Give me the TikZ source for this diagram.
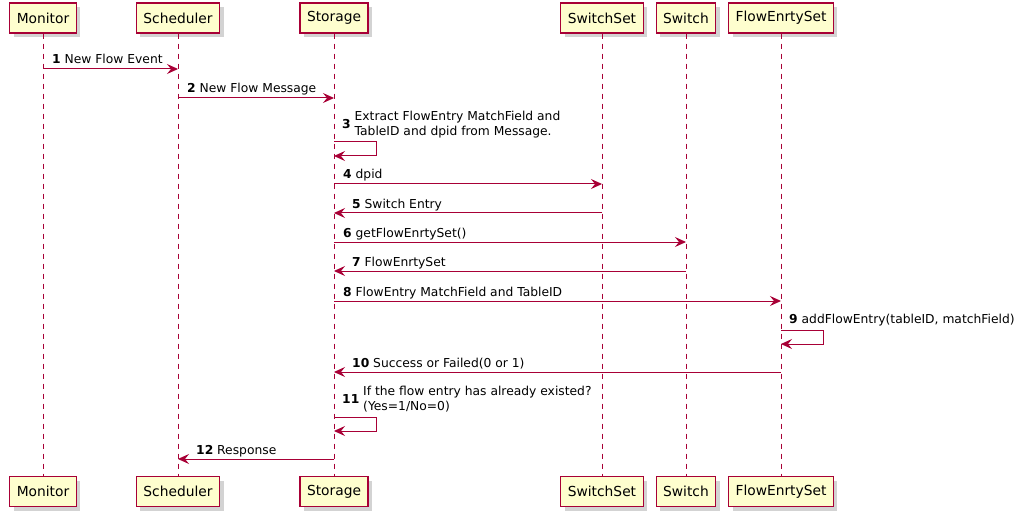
\documentclass[tikz,border=0pt]{standalone}
\usepackage{fontspec}
\setmainfont{DejaVu Sans}
\usetikzlibrary{arrows.meta,shadows}
\definecolor{umlred}{HTML}{A80036}
\definecolor{umlfill}{HTML}{FEFECE}

\begin{document}
\begin{tikzpicture}[x=1pt, y=-1pt,
    actor/.style={draw=umlred, line width=1.2pt, fill=umlfill, minimum height=30pt, inner xsep=7pt,
        font=\fontsize{13.8}{16}\selectfont,
        drop shadow={shadow xshift=4pt, shadow yshift=-4pt, opacity=0.35}},
    lifeline/.style={umlred, line width=0.9pt, dash pattern=on 5pt off 5pt},
    msg/.style={umlred, line width=1pt, -{Stealth[length=11pt, width=10pt, inset=4pt]}},
    lbl/.style={inner sep=0pt, anchor=base west, font=\fontsize{12.3}{14.5}\selectfont},
    selflbl/.style={inner sep=0pt, anchor=south west, font=\fontsize{12.3}{14.5}\selectfont}]
    \useasboundingbox (0,0) rectangle (1029,516);

    \foreach \p/\x in {Monitor/43, Scheduler/178, Storage/334, SwitchSet/602, Switch/686, FlowEnrtySet/781} {
        \node[actor] (\p-top) at (\x,18) {\p};
        \node[actor] (\p-bot) at (\x,491.5) {\p};
        \draw[lifeline] (\p-top) -- (\p-bot);
    }

    \foreach \a/\b/\y/\n/\t in {Monitor/Scheduler/69/1/New Flow Event,
            Scheduler/Storage/98/2/New Flow Message,
            Storage/SwitchSet/184/4/dpid,
            Storage/Switch/242/6/getFlowEnrtySet(),
            Storage/FlowEnrtySet/301/8/FlowEntry MatchField and TableID} {
        \draw[msg] (\a-top |- 0,\y) -- (\b-top |- 0,\y);
        \node[lbl, xshift=9pt, yshift=5pt] (l\n) at (\a-top |- 0,\y) {\textbf{\n} \t};
    }

    \foreach \a/\b/\y/\n/\t in {SwitchSet/Storage/213/5/Switch Entry,
            Switch/Storage/271/7/FlowEnrtySet,
            FlowEnrtySet/Storage/372/10/{Success or Failed(0 or 1)},
            Storage/Scheduler/459/12/Response} {
        \draw[msg] (\a-top |- 0,\y) -- (\b-top |- 0,\y);
        \node[lbl, xshift=18pt, yshift=5pt] (l\n) at (\b-top |- 0,\y) {\textbf{\n} \t};
    }

    \foreach \p/\y/\n/\t in {Storage/142/3/{Extract FlowEntry MatchField and\\TableID and dpid from Message.},
            FlowEnrtySet/330/9/{addFlowEntry(tableID, matchField)},
            Storage/417/11/{If the flow entry has already existed?\\(Yes=1/No=0)}} {
        \draw[msg] (\p-top |- 0,\y) -- ++(42,0) -- ++(0,14) -- (\p-top |- 0,\y+14);
        \node[selflbl, xshift=8pt, yshift=2pt] (l\n) at (\p-top |- 0,\y)
            {\textbf{\n} \begin{tabular}[c]{@{}l@{}}\t\end{tabular}};
    }
\end{tikzpicture}
\end{document}
